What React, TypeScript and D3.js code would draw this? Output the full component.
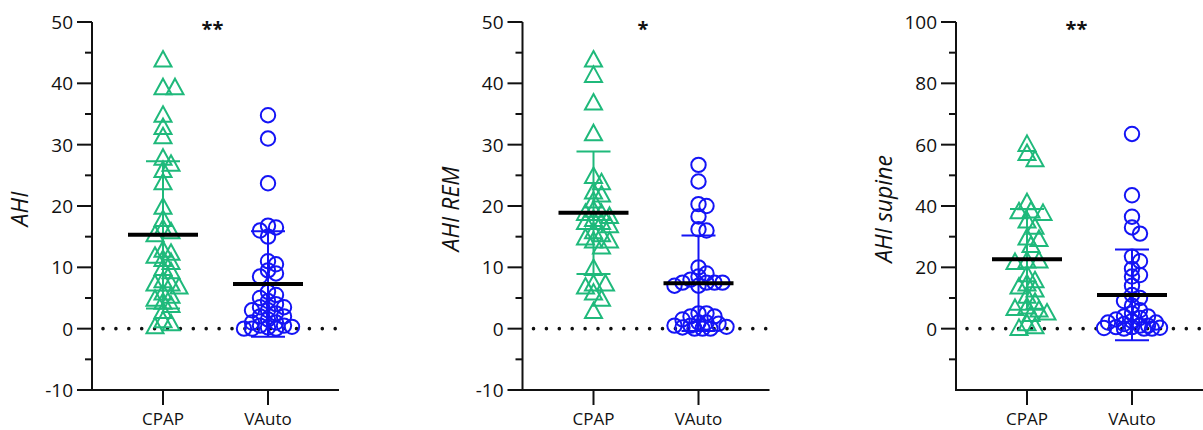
import React from "react";
import * as d3 from "d3";

const categories = ["CPAP", "VAuto"];
const panelTitles = ["AHI", "AHI REM", "AHI supine"];
const significance = ["**", "*", "**"];

const ahiCpap = [44, 39.5, 39.5, 35, 33, 31.5, 28, 27, 26, 24, 20, 18, 16.5, 16, 15.5, 13, 12.5, 12, 11.5, 11, 10, 9.5, 8, 7.5, 7.5, 7, 6, 5.5, 5, 4.5, 4, 3, 1.5, 1, 0.5];
const ahiVauto = [34.8, 31, 23.7, 16.8, 16.5, 16, 15, 11, 10.5, 9.5, 9, 8.5, 6, 5.5, 5, 4.5, 4, 3.5, 3.5, 3, 3, 2.5, 2, 2, 1.5, 1, 1, 0.5, 0.5, 0.3, 0.2, 0, 0, 0];
const remCpap = [44, 41.5, 37, 32, 25, 24, 22.5, 22, 21, 19.5, 19, 19, 18.5, 18, 17.5, 17.5, 17, 16, 15.5, 15, 14.5, 14.5, 13.5, 10, 7.5, 7.5, 7, 6, 5, 3];
const remVauto = [26.7, 24, 20.3, 20, 18.3, 16.2, 16, 10, 9, 8.5, 8, 7.5, 7.5, 7.5, 7.5, 7, 7, 2.5, 2.5, 2, 2, 1.5, 1, 1, 0.8, 0.5, 0.5, 0.3, 0.2, 0, 0, 0];
const supCpap = [60.5, 57.5, 55.5, 41.5, 38.8, 38.5, 38, 35.5, 33.5, 30, 29.5, 27.5, 22.5, 22.5, 22, 18, 16, 15, 14, 13, 11, 9, 7.5, 7, 6.5, 5.5, 5, 2, 1, 0.5];
const supVauto = [63.5, 43.5, 36.5, 33, 31, 23.5, 22, 19.5, 17.5, 17, 14, 11, 10, 9, 7.5, 6, 5, 4, 4, 3.5, 3, 2.5, 2, 2, 1.5, 1, 1, 0.5, 0.5, 0.3, 0.2, 0, 0, 0];

const means = [[15.3, 7.3], [18.9, 7.4], [22.6, 11.0]];
const sds = [[12.0, 8.6], [10.0, 7.8], [16.4, 14.8]];

const yDomains = [[-10, 50], [-10, 50], [-20, 100]];
const majorTicks = [
  [-10, 0, 10, 20, 30, 40, 50],
  [-10, 0, 10, 20, 30, 40, 50],
  [0, 20, 40, 60, 80, 100],
];
const minorTicks = [
  [-5, 5, 15, 25, 35, 45],
  [-5, 5, 15, 25, 35, 45],
  [-10, 10, 30, 50, 70, 90],
];

const seriesData = [
  [ahiCpap, ahiVauto],
  [remCpap, remVauto],
  [supCpap, supVauto],
];

const W = 1203;
const H = 430;
const GREEN = "#1fb97b";
const BLUE = "#1414f5";
const FONT = "'Open Sans', sans-serif";
const INK = "#111";

const panelAxisX = [92, 522.5, 956];
const axisLen = 247;
const top = 22;
const bottom = 390;

function swarm(values: number[], y: (v: number) => number, minD: number, step: number, maxOff: number) {
  const placed: { x: number; y: number }[] = [];
  const idx = values.map((v, i) => i).sort((a, b) => values[b] - values[a]);
  const out: number[] = new Array(values.length).fill(0);
  const nSteps = Math.floor(maxOff / step);
  const cands: number[] = [0];
  for (let k = 1; k <= nSteps; k++) cands.push(k * step, -k * step);
  for (const i of idx) {
    const py = y(values[i]);
    let chosen: number | null = null;
    let best = 0, bestD = -1;
    for (const off of cands) {
      const dmin = placed.reduce((m, p) => Math.min(m, Math.hypot(p.x - off, p.y - py)), Infinity);
      if (dmin >= minD) { chosen = off; break; }
      if (dmin > bestD) { bestD = dmin; best = off; }
    }
    const off = chosen === null ? best : chosen;
    placed.push({ x: off, y: py });
    out[i] = off;
  }
  return out;
}

function Triangle({ cx, cy }: { cx: number; cy: number }) {
  const w = 17, h = 15.5;
  const p = [[cx, cy - h / 2], [cx + w / 2, cy + h / 2], [cx - w / 2, cy + h / 2]];
  return <path d={d3.line()(p as [number, number][])! + "Z"} fill="none" stroke={GREEN} strokeWidth={2} strokeLinejoin="miter" />;
}

function Panel({ p }: { p: number }) {
  const ax = panelAxisX[p];
  const xEnd = Math.min(ax + axisLen, W);
  const y = d3.scaleLinear().domain(yDomains[p]).range([bottom, top]);
  const x = d3.scalePoint<string>().domain(categories).range([ax + 71, ax + 176]);
  const zeroY = y(0);
  return (
    <g>
      {/* y axis */}
      <line x1={ax} x2={ax} y1={top} y2={bottom + 1} stroke={INK} strokeWidth={2} />
      {majorTicks[p].map((t) => (
        <g key={"M" + t}>
          <line x1={ax - 15} x2={ax} y1={y(t)} y2={y(t)} stroke={INK} strokeWidth={2} />
          <text x={ax - 19} y={y(t)} dy="0.36em" textAnchor="end" fontSize={19} fontFamily={FONT} fill={INK}>{t}</text>
        </g>
      ))}
      {minorTicks[p].map((t) => (
        <line key={"m" + t} x1={ax - 7} x2={ax} y1={y(t)} y2={y(t)} stroke={INK} strokeWidth={2} />
      ))}
      {/* x axis */}
      <line x1={ax - 1} x2={xEnd} y1={bottom} y2={bottom} stroke={INK} strokeWidth={2} />
      {categories.map((c) => (
        <g key={c}>
          <line x1={x(c)} x2={x(c)} y1={bottom} y2={bottom + 15} stroke={INK} strokeWidth={2} />
          <text x={x(c)} y={425} textAnchor="middle" fontSize={17} fontFamily={FONT} fill={INK}>{c}</text>
        </g>
      ))}
      {/* axis title */}
      <text transform={`translate(${ax - 72},${209}) rotate(-90)`} textAnchor="middle" dy="0.35em" fontSize={23} fontStyle="italic" fontFamily={FONT} fill={INK}>{panelTitles[p]}</text>
      {/* zero dotted line */}
      <line x1={ax + 11} x2={xEnd} y1={zeroY} y2={zeroY} stroke="#111" strokeWidth={3.6} strokeLinecap="round" strokeDasharray="0 12.9" />
      {/* points */}
      {categories.map((c, ci) => {
        const vals = seriesData[p][ci];
        const offs = ci === 0 ? swarm(vals, y, 8.5, 4, 32) : swarm(vals, y, 7.5, 4, 30);
        return (
          <g key={"pts" + c}>
            {vals.map((v, i) =>
              ci === 0 ? (
                <Triangle key={i} cx={x(c)! + offs[i]} cy={y(v)} />
              ) : (
                <circle key={i} cx={x(c)! + offs[i]} cy={y(v)} r={7.2} fill="none" stroke={BLUE} strokeWidth={2} />
              )
            )}
          </g>
        );
      })}
      {/* SD bars and means */}
      {categories.map((c, ci) => {
        const m = means[p][ci];
        const s = sds[p][ci];
        const col = ci === 0 ? GREEN : BLUE;
        const cx = x(c)!;
        return (
          <g key={"sd" + c}>
            <line x1={cx} x2={cx} y1={y(m + s)} y2={y(m - s)} stroke={col} strokeWidth={2} />
            <line x1={cx - 17} x2={cx + 17} y1={y(m + s)} y2={y(m + s)} stroke={col} strokeWidth={2} />
            <line x1={cx - 17} x2={cx + 17} y1={y(m - s)} y2={y(m - s)} stroke={col} strokeWidth={2} />
            <line x1={cx - 35} x2={cx + 35} y1={y(m)} y2={y(m)} stroke="#000" strokeWidth={4} />
          </g>
        );
      })}
      {/* significance */}
      <text x={(x(categories[0])! + x(categories[1])!) / 2 - 3} y={36} textAnchor="middle" fontSize={20} fontWeight="bold" fontFamily={FONT} fill={INK}>{significance[p]}</text>
    </g>
  );
}

export default function App() {
  return (
    <svg width={W} height={H} style={{ position: "absolute", left: 0, top: 0, background: "#fff" }}>
      <rect width={W} height={H} fill="#fff" />
      {[0, 1, 2].map((p) => (
        <Panel key={p} p={p} />
      ))}
    </svg>
  );
}
